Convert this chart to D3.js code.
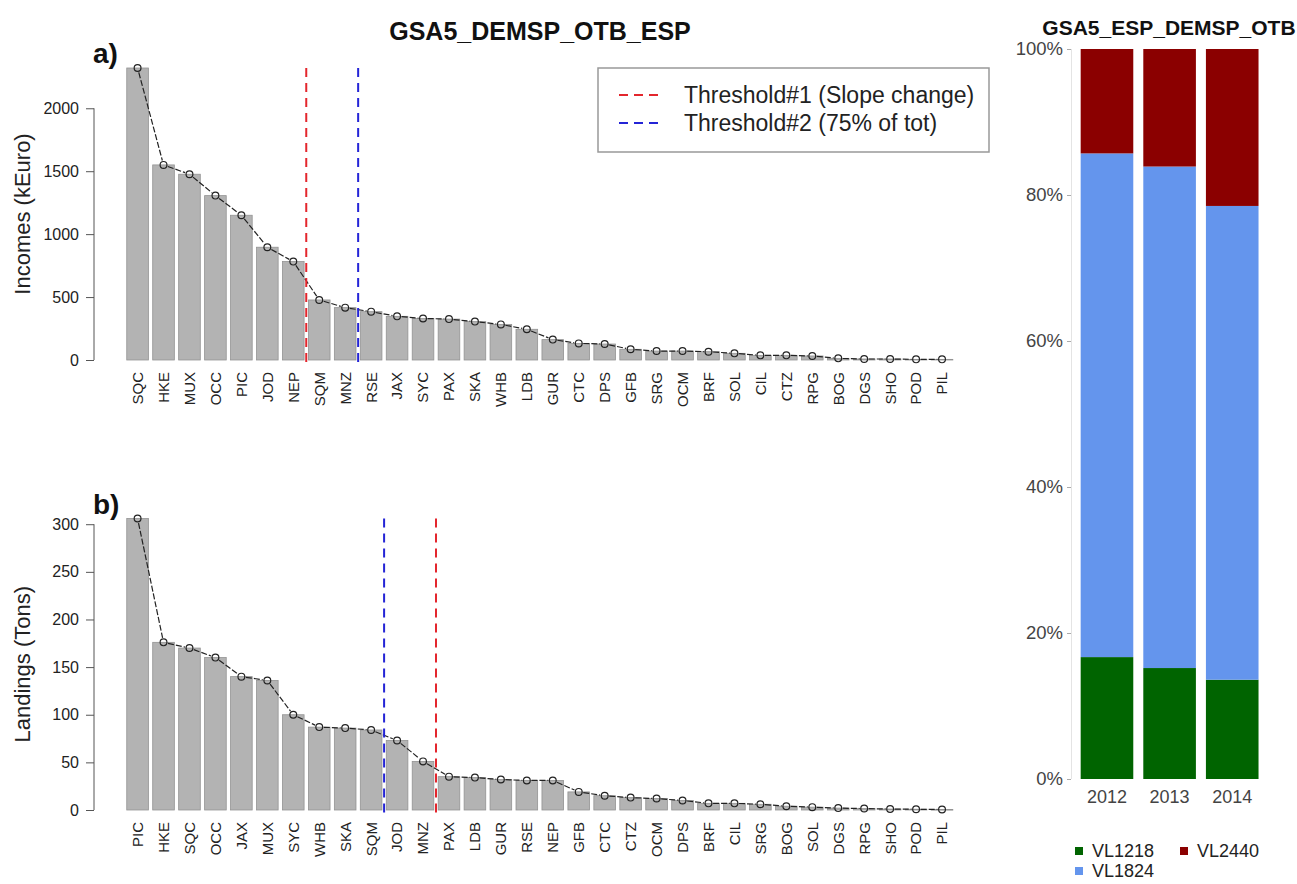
<!DOCTYPE html>
<html>
<head>
<meta charset="utf-8">
<script src="https://cdn.jsdelivr.net/npm/d3@7"></script>
<style>
  body { margin: 0; background: #fff; }
  svg { display: block; font-family: "Liberation Sans", Arial, sans-serif; }
</style>
</head>
<body>
<svg id="chart" width="1297" height="884"></svg>
<script>
// panel a: incomes by species
const speciesA = ["SQC","HKE","MUX","OCC","PIC","JOD","NEP","SQM","MNZ","RSE","JAX","SYC","PAX","SKA","WHB","LDB",
  "GUR","CTC","DPS","GFB","SRG","OCM","BRF","SOL","CIL","CTZ","RPG","BOG","DGS","SHO","POD","PIL"];
const incomes = [2320,1550,1476,1306,1150,896,782,477,416,384,347,330,325,305,283,244,
  162,132,127,85,71,71,66,53,37,37,32,13,8,8,5,5];
const incomeTicks = [0,500,1000,1500,2000];

// panel b: landings by species
const speciesB = ["PIC","HKE","SQC","OCC","JAX","MUX","SYC","WHB","SKA","SQM","JOD","MNZ","PAX","LDB","GUR","RSE",
  "NEP","GFB","CTC","CTZ","OCM","DPS","BRF","CIL","SRG","BOG","SOL","DGS","RPG","SHO","POD","PIL"];
const landings = [306,176,170,160,140,136,100,87,86,84,73,51,35,34,32,31,
  31,19,15,13,12,10,7,7,6,4,3,2,1.5,1,0.8,0.5];
const landingTicks = [0,50,100,150,200,250,300];

// thresholds: number of species kept before the line
const thresholdsA = [{ name: "Threshold#1 (Slope change)", after: 7, color: "#e3262d" },
                     { name: "Threshold#2 (75% of tot)", after: 9, color: "#2424d6" }];
const thresholdsB = [{ after: 12, color: "#e3262d" }, { after: 10, color: "#2424d6" }];

// right panel: share by vessel length
const years = ["2012","2013","2014"];
const vl1218 = [16.7,15.2,13.6];
const vl1824 = [69.0,68.7,64.9];
const vl2440 = [14.3,16.1,21.5];
const lengthClasses = ["VL1218","VL1824","VL2440"];
const classColors = { VL1218: "#006400", VL1824: "#6495ed", VL2440: "#8b0000" };

const svg = d3.select("#chart");
const barFill = "#b3b3b3", barStroke = "#939393";

svg.append("text")
  .attr("x", 540).attr("y", 40)
  .attr("text-anchor", "middle")
  .attr("font-size", 25).attr("font-weight", "bold")
  .attr("fill", "#111")
  .text("GSA5_DEMSP_OTB_ESP");

function drawPanel(cfg) {
  const g = svg.append("g");
  const x = d3.scaleBand()
    .domain(cfg.cats)
    .range([124.6, 955])
    .paddingInner(0.2 / 1.2)
    .paddingOuter(0.1 / 1.2);
  const y = d3.scaleLinear().domain([0, cfg.top]).range([cfg.bottom, cfg.bottom - cfg.pxTop]);
  const rows = cfg.cats.map((c, i) => ({ c, v: cfg.values[i] }));

  g.selectAll("rect.bar")
    .data(rows)
    .join("rect")
      .attr("class", "bar")
      .attr("x", d => x(d.c))
      .attr("width", x.bandwidth())
      .attr("y", d => y(d.v))
      .attr("height", d => Math.max(0.6, y(0) - y(d.v)))
      .attr("fill", barFill)
      .attr("stroke", barStroke)
      .attr("stroke-width", 0.8);

  // R type="b": segments stop short of the circles
  const r = 3.4;
  const pts = rows.map(d => [x(d.c) + x.bandwidth() / 2, y(d.v)]);
  const segs = d3.pairs(pts).map(([a, b]) => {
    const dx = b[0] - a[0], dy = b[1] - a[1];
    const len = Math.hypot(dx, dy);
    const k = (r + 1.2) / len;
    return [a[0] + dx * k, a[1] + dy * k, b[0] - dx * k, b[1] - dy * k, len];
  }).filter(s => s[4] > 2 * (r + 1.2));
  g.selectAll("line.seg")
    .data(segs)
    .join("line")
      .attr("x1", s => s[0]).attr("y1", s => s[1])
      .attr("x2", s => s[2]).attr("y2", s => s[3])
      .attr("stroke", "#222")
      .attr("stroke-width", 1.2)
      .attr("stroke-dasharray", "6,2");
  g.selectAll("circle.pt")
    .data(pts)
    .join("circle")
      .attr("cx", p => p[0]).attr("cy", p => p[1])
      .attr("r", r)
      .attr("fill", "none")
      .attr("stroke", "#222")
      .attr("stroke-width", 1.2);

  // threshold lines sit in the gap after the n-th bar
  const gapX = n => x(cfg.cats[n - 1]) + x.step() - (x.step() - x.bandwidth()) / 2;
  g.selectAll("line.thr")
    .data(cfg.thresholds)
    .join("line")
      .attr("x1", d => gapX(d.after)).attr("x2", d => gapX(d.after))
      .attr("y1", y(cfg.top)).attr("y2", cfg.bottom + cfg.lineBelow)
      .attr("stroke", d => d.color)
      .attr("stroke-width", 2)
      .attr("stroke-dasharray", "9,6");

  // y axis
  const yAxis = g.append("g")
    .attr("transform", "translate(94,0)")
    .call(d3.axisLeft(y).tickValues(cfg.ticks).tickSize(8).tickPadding(7).tickFormat(d3.format("d")));
  yAxis.select(".domain").remove();
  yAxis.append("line")
    .attr("y1", y(cfg.ticks[0])).attr("y2", y(cfg.ticks[cfg.ticks.length - 1]))
    .attr("stroke", "#555");
  yAxis.selectAll(".tick line").attr("stroke", "#555");
  yAxis.selectAll(".tick text")
    .attr("font-size", 16)
    .attr("font-family", "'Liberation Sans', Arial, sans-serif")
    .attr("fill", "#222");

  g.append("text")
    .attr("transform", `translate(30,${cfg.bottom - cfg.pxTop / 2}) rotate(-90)`)
    .attr("text-anchor", "middle")
    .attr("font-size", 22)
    .attr("fill", "#222")
    .text(cfg.yTitle);

  // species labels, vertical
  g.selectAll("text.cat")
    .data(rows)
    .join("text")
      .attr("class", "cat")
      .attr("transform", d => `translate(${x(d.c) + x.bandwidth() / 2},${cfg.bottom + 12}) rotate(-90)`)
      .attr("dy", "0.36em")
      .attr("text-anchor", "end")
      .attr("font-size", 15)
      .attr("fill", "#222")
      .text(d => d.c);

  g.append("text")
    .attr("x", 93).attr("y", cfg.bottom - cfg.pxTop - 5)
    .attr("font-size", 28).attr("font-weight", "bold")
    .attr("fill", "#111")
    .text(cfg.tag);
}

drawPanel({ cats: speciesA, values: incomes, ticks: incomeTicks, top: 2320, bottom: 360, pxTop: 292,
  thresholds: thresholdsA, lineBelow: 2, yTitle: "Incomes (kEuro)", tag: "a)" });
drawPanel({ cats: speciesB, values: landings, ticks: landingTicks, top: 306, bottom: 810, pxTop: 291.5,
  thresholds: thresholdsB, lineBelow: 8, yTitle: "Landings (Tons)", tag: "b)" });

// legend for thresholds
const leg = svg.append("g");
leg.append("rect")
  .attr("x", 598).attr("y", 68).attr("width", 391).attr("height", 84)
  .attr("fill", "#fff").attr("stroke", "#999").attr("stroke-width", 1.5);
thresholdsA.forEach((t, i) => {
  const cy = 95 + i * 28;
  leg.append("line")
    .attr("x1", 619).attr("x2", 662).attr("y1", cy).attr("y2", cy)
    .attr("stroke", t.color).attr("stroke-width", 2).attr("stroke-dasharray", "9,6");
  leg.append("text")
    .attr("x", 684).attr("y", cy + 8)
    .attr("font-size", 23).attr("fill", "#222")
    .text(t.name);
});

// right panel: stacked percentages
const rp = svg.append("g");
const xr = d3.scaleBand().domain(years).range([1069.4, 1269.8]).paddingInner(0.16).paddingOuter(0.18);
const yr = d3.scaleLinear().domain([0, 100]).range([779, 49]);
const table = years.map((yy, i) => ({ year: yy, VL1218: vl1218[i], VL1824: vl1824[i], VL2440: vl2440[i] }));
const stacked = d3.stack().keys(lengthClasses)(table);

rp.append("line")
  .attr("x1", 1071.5).attr("x2", 1071.5).attr("y1", yr(0)).attr("y2", yr(100))
  .attr("stroke", "#e4e4e4");
rp.selectAll("g.layer")
  .data(stacked)
  .join("g")
    .attr("fill", d => classColors[d.key])
  .selectAll("rect")
  .data(d => d)
  .join("rect")
    .attr("x", d => xr(d.data.year))
    .attr("width", xr.bandwidth())
    .attr("y", d => yr(d[1]))
    .attr("height", d => yr(d[0]) - yr(d[1]));

const yrAxis = rp.append("g")
  .attr("transform", "translate(1071,0)")
  .call(d3.axisLeft(yr).tickValues([0,20,40,60,80,100]).tickSize(4).tickPadding(4).tickFormat(d => d + "%"));
yrAxis.select(".domain").remove();
yrAxis.selectAll(".tick line").attr("stroke", "#aaa");
yrAxis.selectAll(".tick text")
  .attr("font-size", 18.5)
  .attr("font-family", "'Liberation Sans', Arial, sans-serif")
  .attr("fill", "#444");

rp.selectAll("text.year")
  .data(years)
  .join("text")
    .attr("x", d => xr(d) + xr.bandwidth() / 2)
    .attr("y", 803)
    .attr("text-anchor", "middle")
    .attr("font-size", 18)
    .attr("fill", "#444")
    .text(d => d);

rp.append("text")
  .attr("x", 1169).attr("y", 35)
  .attr("text-anchor", "middle")
  .attr("font-size", 21).attr("font-weight", "bold")
  .attr("fill", "#111")
  .text("GSA5_ESP_DEMSP_OTB");

// legend for vessel length classes
const legendPos = { VL1218: [1075, 847], VL2440: [1180, 847], VL1824: [1075, 867] };
lengthClasses.forEach(k => {
  const [lx, ly] = legendPos[k];
  rp.append("rect")
    .attr("x", lx).attr("y", ly).attr("width", 8).attr("height", 8)
    .attr("fill", classColors[k]);
  rp.append("text")
    .attr("x", lx + 17).attr("y", ly + 10)
    .attr("font-size", 18).attr("fill", "#222")
    .text(k);
});
</script>
</body>
</html>
